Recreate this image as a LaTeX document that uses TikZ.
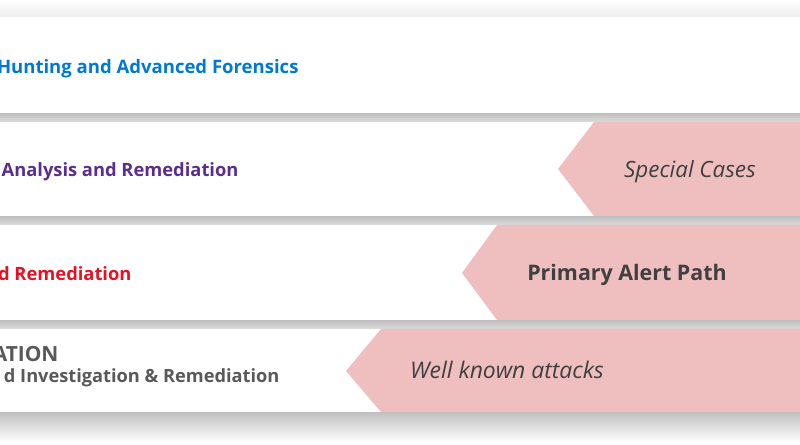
\documentclass[tikz,border=0pt]{standalone}
\usepackage{fontspec}
\setmainfont{Open Sans}
\usetikzlibrary{positioning}

\definecolor{huntblue}{HTML}{0078D4}
\definecolor{analysispurple}{HTML}{5C2D91}
\definecolor{remedred}{HTML}{E81123}
\definecolor{autogray}{HTML}{595959}
\definecolor{casegray}{HTML}{404040}
\definecolor{alertpink}{HTML}{EFBEBE}

\begin{document}
\begin{tikzpicture}[x=1bp, y=-1bp,
    band/.style={fill=white},
    gap shadow/.style={top color=black!25, bottom color=black!14},
    chevron/.style={fill=alertpink},
    tier/.style={anchor=base east, font=\fontsize{18.6}{22}\selectfont\bfseries},
    casetext/.style={anchor=base, text=casegray, font=\fontsize{22}{26}\selectfont}]
  \useasboundingbox (0,0) rectangle (800,445);
  \clip (0,0) rectangle (800,445);

  % shadows under the bands
  \shade[top color=white, bottom color=black!7] (0,0) rectangle (800,17);
  \shade[gap shadow] (0,113) rectangle (800,122);
  \shade[gap shadow] (0,216) rectangle (800,225);
  \shade[gap shadow] (0,320) rectangle (800,329);
  \shade[top color=black!25, bottom color=white] (0,412) rectangle (800,442);

  % bands
  \fill[band] (0,17) rectangle (800,113);
  \fill[band] (0,122) rectangle (800,216);
  \fill[band] (0,225) rectangle (800,320);
  \fill[band] (0,329) rectangle (800,412);

  % chevrons pointing left
  \fill[chevron] (594,122) -- (800,122) -- (800,216) -- (594,216) -- (558,169) -- cycle;
  \fill[chevron] (497,225) -- (800,225) -- (800,320) -- (497,320) -- (462,273) -- cycle;
  \fill[chevron] (381,329) -- (800,329) -- (800,412) -- (381,412) -- (346,371) -- cycle;

  % tier titles
  \node[tier, text=huntblue] (hunt) at (302,74) {Hunting and Advanced Forensics};
  \node[tier, text=analysispurple, font=\fontsize{18.4}{22}\selectfont\bfseries] (analysis) at (242,177) {Analysis and Remediation};
  \node[tier, text=remedred, font=\fontsize{18.4}{22}\selectfont\bfseries] (remed) at (135,281) {d Remediation};
  \node[tier, text=autogray, font=\fontsize{21}{25}\selectfont\bfseries] (autohead) at (62,362) {ATION};
  \node[tier, text=autogray, font=\fontsize{18.3}{22}\selectfont\bfseries] (autosub) at (283,383) {d Investigation \& Remediation};

  % case labels
  \node[casetext, font=\fontsize{22.5}{26}\selectfont\itshape] (special) at (690,178) {Special Cases};
  \node[casetext, font=\fontsize{21.5}{26}\selectfont\bfseries] (primary) at (627,281) {Primary Alert Path};
  \node[casetext, font=\fontsize{23}{27}\selectfont\itshape] (wellknown) at (507,379) {Well known attacks};
\end{tikzpicture}
\end{document}
